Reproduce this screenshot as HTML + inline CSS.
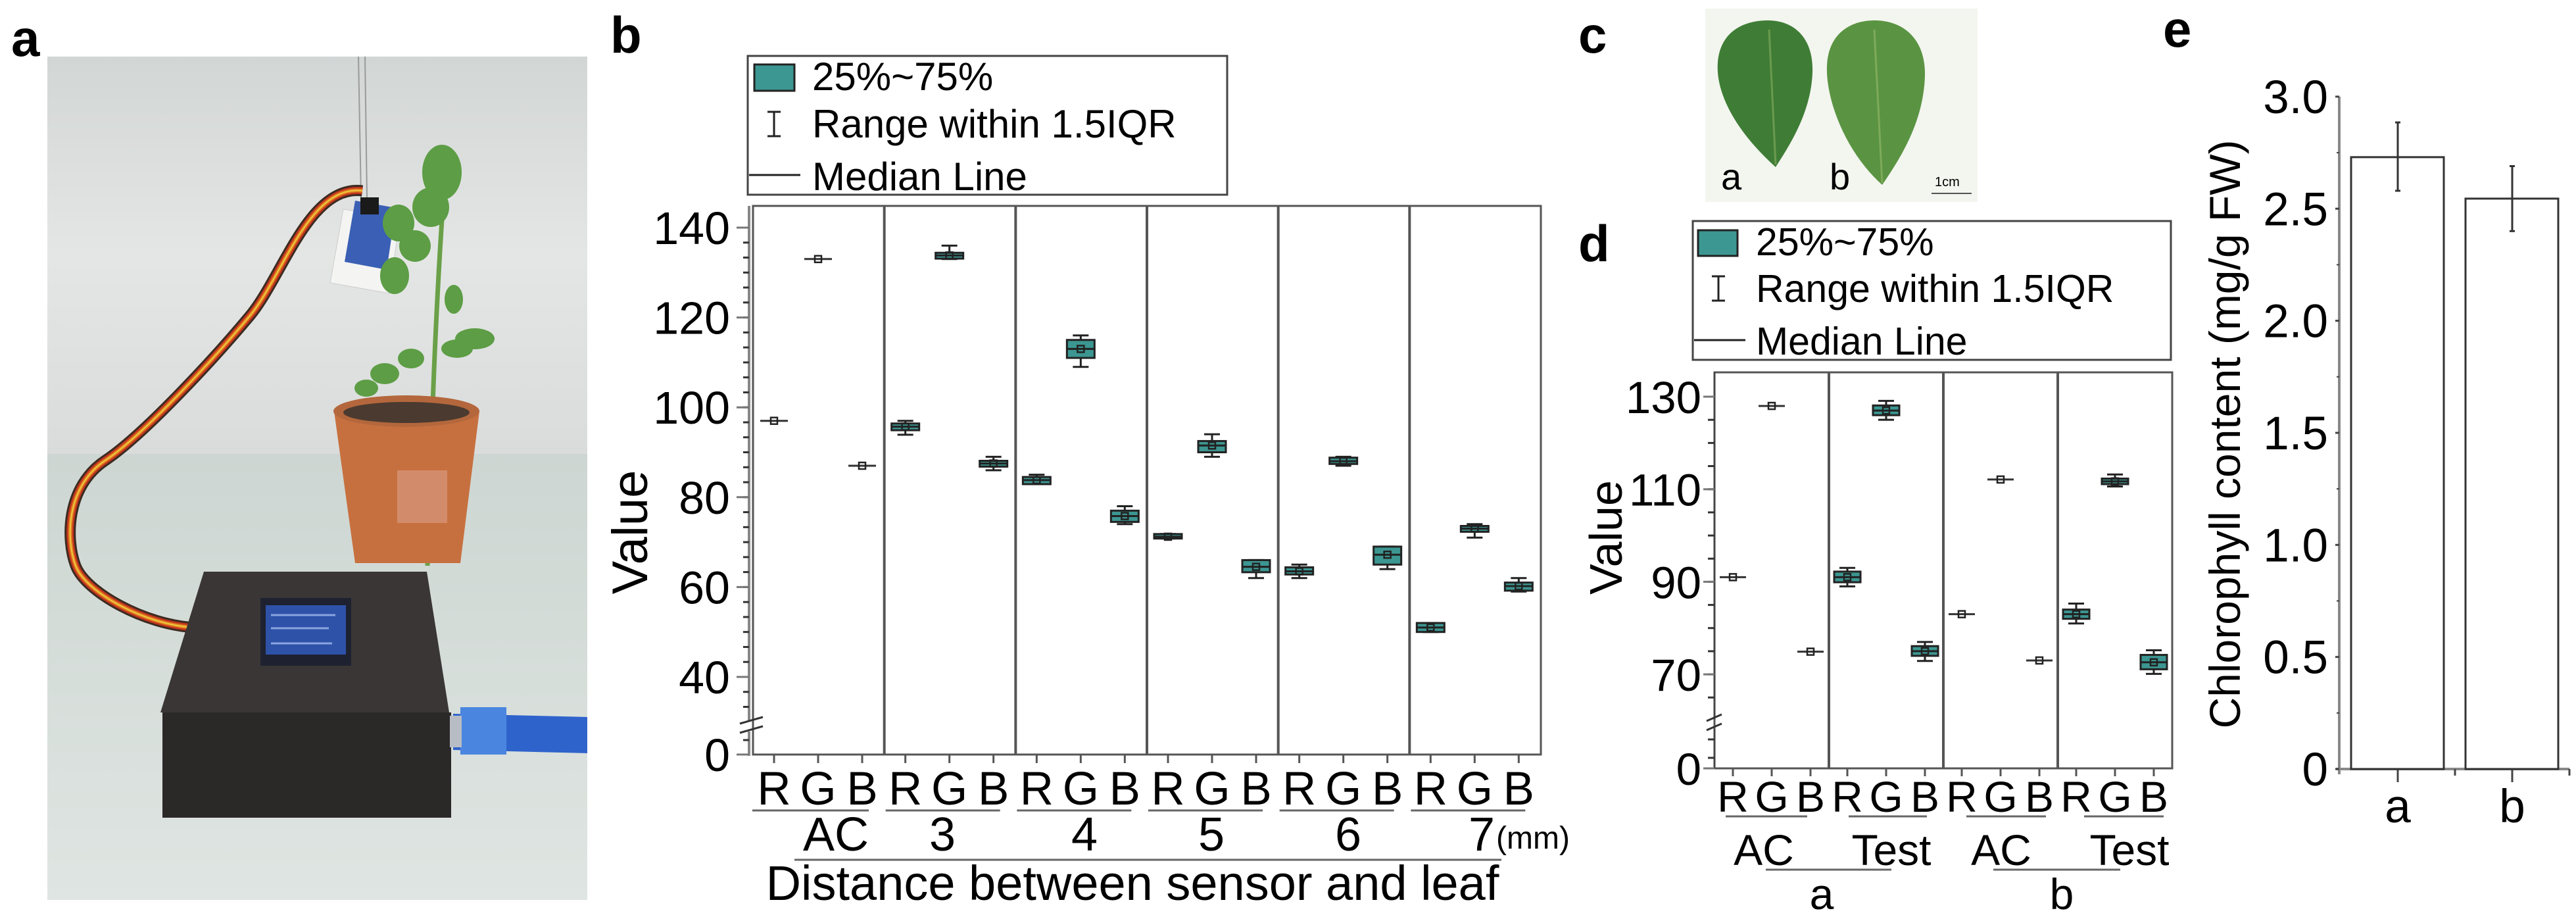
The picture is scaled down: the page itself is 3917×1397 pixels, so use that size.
<!DOCTYPE html>
<html><head><meta charset="utf-8"><style>
html,body{margin:0;padding:0;background:#fff;}
svg{display:block;font-family:"Liberation Sans",sans-serif;}
</style></head><body>
<svg id="fig" width="3917" height="1397" viewBox="0 0 3917 1397" xmlns="http://www.w3.org/2000/svg">
<defs>
<linearGradient id="wall" x1="0" y1="0" x2="0" y2="1"><stop offset="0" stop-color="#d2d6d5"/><stop offset="0.5" stop-color="#e4e6e5"/><stop offset="1" stop-color="#d9dcdb"/></linearGradient>
<linearGradient id="table" x1="0" y1="0" x2="0" y2="1"><stop offset="0" stop-color="#cdd6d2"/><stop offset="1" stop-color="#dfe5e2"/></linearGradient>
</defs>
<rect width="3917" height="1397" fill="#fff"/>

<!-- Panel a photo -->
<g>
<rect x="72" y="86" width="821" height="604" fill="url(#wall)"/>
<rect x="72" y="690" width="821" height="678" fill="url(#table)"/>
<line x1="545" y1="86" x2="549" y2="300" stroke="#9a9a9a" stroke-width="2"/>
<line x1="555" y1="86" x2="558" y2="300" stroke="#9a9a9a" stroke-width="2"/>
<path d="M551,290 C470,280 430,420 380,480 S220,660 160,700 S100,820 115,860 S220,950 296,954" fill="none" stroke="#3b2b20" stroke-width="17"/>
<path d="M551,290 C470,280 430,420 380,480 S220,660 160,700 S100,820 115,860 S220,950 296,954" fill="none" stroke="#c0341f" stroke-width="11"/>
<path d="M551,290 C470,280 430,420 380,480 S220,660 160,700 S100,820 115,860 S220,950 296,954" fill="none" stroke="#e27a22" stroke-width="6"/>
<path d="M551,290 C470,280 430,420 380,480 S220,660 160,700 S100,820 115,860 S220,950 296,954" fill="none" stroke="#eccb3c" stroke-width="2"/>
<polygon points="522,318 608,332 592,446 502,430" fill="#f4f4f2" stroke="#ccc"/>
<polygon points="540,305 602,316 588,410 524,398" fill="#3a5fb4"/>
<rect x="548" y="300" width="28" height="26" fill="#1a1a1a"/>
<path d="M650,860 C655,700 660,500 675,290" stroke="#6aa048" stroke-width="7" fill="none"/>
<g fill="#5d9d45">
<ellipse cx="672" cy="262" rx="30" ry="42"/><ellipse cx="655" cy="315" rx="28" ry="30"/>
<ellipse cx="606" cy="339" rx="24" ry="28"/><ellipse cx="600" cy="419" rx="22" ry="28"/>
<ellipse cx="631" cy="374" rx="24" ry="24"/><ellipse cx="690" cy="455" rx="14" ry="22"/>
<ellipse cx="722" cy="515" rx="30" ry="16"/><ellipse cx="695" cy="530" rx="24" ry="14"/>
<ellipse cx="585" cy="568" rx="22" ry="16"/><ellipse cx="557" cy="590" rx="18" ry="13"/>
<ellipse cx="625" cy="545" rx="20" ry="15"/>
</g>
<polygon points="508,625 729,625 700,856 540,856" fill="#c7703f"/>
<ellipse cx="618" cy="625" rx="111" ry="24" fill="#b4673c"/>
<ellipse cx="618" cy="627" rx="96" ry="16" fill="#4a3a30"/>
<rect x="604" y="715" width="76" height="80" fill="#d38c6b"/>
<polygon points="310,869 649,869 683,1083 244,1083" fill="#3a3636"/>
<rect x="247" y="1083" width="439" height="160" fill="#2b2828"/>
<rect x="396" y="909" width="138" height="103" fill="#1e2230"/>
<rect x="404" y="920" width="122" height="75" fill="#2e52a8"/>
<g stroke="#8aa4e0" stroke-width="3"><line x1="412" y1="935" x2="510" y2="935"/><line x1="412" y1="955" x2="500" y2="955"/><line x1="412" y1="978" x2="505" y2="978"/></g>
<polygon points="689,1085 893,1090 893,1145 689,1140" fill="#2f63cc"/>
<rect x="700" y="1075" width="70" height="72" fill="#4a86e0"/>
<rect x="684" y="1088" width="18" height="48" fill="#b8bcc4"/>
</g>

<!-- Panel c photo -->
<g>
<rect x="2593" y="13" width="414" height="294" fill="#f3f5ef"/>
<path d="M2700,254 C2645,205 2608,145 2612,95 C2616,45 2655,31 2688,31 C2730,31 2758,60 2756,110 C2754,170 2722,220 2700,254Z" fill="#3f7d36"/>
<path d="M2862,281 C2805,230 2776,150 2778,100 C2780,50 2815,31 2850,31 C2895,31 2928,60 2927,115 C2925,185 2890,240 2862,281Z" fill="#5a9442"/>
<line x1="2690" y1="45" x2="2700" y2="250" stroke="#6a9a50" stroke-width="3"/>
<line x1="2850" y1="45" x2="2862" y2="278" stroke="#7eaa5a" stroke-width="3"/>
<text x="2617" y="288" font-size="56">a</text>
<text x="2782" y="288" font-size="56">b</text>
<text x="2942" y="283" font-size="20">1cm</text>
<line x1="2937" y1="294" x2="2998" y2="294" stroke="#555" stroke-width="2"/>
</g>

<!-- Panel letters -->
<g font-weight="bold" font-size="78">
<text x="17" y="85">a</text>
<text x="928" y="80">b</text>
<text x="2400" y="80">c</text>
<text x="2400" y="397">d</text>
<text x="3289" y="71">e</text>
</g>

<!-- Legend b -->
<g>
<rect x="1137" y="85" width="729" height="211" fill="#fff" stroke="#444" stroke-width="3"/>
<rect x="1147" y="98" width="61" height="40" fill="#3c9691" stroke="#222" stroke-width="3"/>
<text x="1235" y="137" font-size="60">25%~75%</text>
<g stroke="#222" stroke-width="3"><line x1="1177" y1="170" x2="1177" y2="207"/><line x1="1167" y1="170" x2="1187" y2="170"/><line x1="1167" y1="207" x2="1187" y2="207"/></g>
<text x="1235" y="209" font-size="60">Range within 1.5IQR</text>
<line x1="1139" y1="266" x2="1217" y2="266" stroke="#222" stroke-width="3"/>
<text x="1235" y="289" font-size="60">Median Line</text>
</g>

<!-- Legend d -->
<g>
<rect x="2574" y="336" width="727" height="211" fill="#fff" stroke="#444" stroke-width="3"/>
<rect x="2582" y="350" width="60" height="39" fill="#3c9691" stroke="#222" stroke-width="3"/>
<text x="2670" y="388" font-size="59">25%~75%</text>
<g stroke="#222" stroke-width="3"><line x1="2613" y1="420" x2="2613" y2="457"/><line x1="2603" y1="420" x2="2623" y2="420"/><line x1="2603" y1="457" x2="2623" y2="457"/></g>
<text x="2670" y="459" font-size="59">Range within 1.5IQR</text>
<line x1="2576" y1="517" x2="2654" y2="517" stroke="#222" stroke-width="3"/>
<text x="2670" y="539" font-size="59">Median Line</text>
</g>

<g id="chartB"></g>
<g id="chartD"></g>
<g id="chartE"></g>
</svg>
<script>
// ---- Panel b data ----
const bGroups = ["AC","3","4","5","6","7"];
const bChannels = ["R","G","B"];
const bQ1  = [97,133,87, 94.9,133.1,86.8, 82.9,111,74.5, 70.8,90,63.3, 62.8,87.4,65, 50,72.3,59.2];
const bQ3  = [97,133,87, 96.4,134.4,88.1, 84.5,115,77, 71.8,92.5,66, 64.4,88.8,69, 52,73.6,61];
const bMed = [97,133,87, 95.7,133.8,87.5, 83.8,113,75.8, 71.2,91.5,64.5, 63.5,88,67.2, 51,73,60.2];
const bLo  = [97,133,87, 93.9,133,86, 83,109,74, 70.8,89,62, 62,87,64, 50,71,59];
const bHi  = [97,133,87, 97,136,89, 85,116,78, 71.8,94,66, 65,89,69, 52,74,62];
const bYTicks = [0,40,60,80,100,120,140];
// ---- Panel d data ----
const dGroups = ["AC","Test","AC","Test"];
const dSamples = ["a","b"];
const dQ1  = [91,128,74.9, 89.9,126,74, 83,112.1,73, 82,111.1,71.1];
const dQ3  = [91,128,74.9, 92.2,128.1,76.1, 83,112.1,73, 84,112.3,74.2];
const dMed = [91,128,74.9, 91,127,75, 83,112.1,73, 83,111.7,72.6];
const dLo  = [91,128,74.9, 89,125,72.9, 83,112.1,73, 81,110.6,70.1];
const dHi  = [91,128,74.9, 93,129.1,77, 83,112.1,73, 85.3,113.2,75.2];
const dYTicks = [0,70,90,110,130];
// ---- Panel e data ----
const eCats = ["a","b"];
const eVals = [2.73,2.545];
const eErrLo = [2.58,2.40];
const eErrHi = [2.885,2.69];
const eYTicks = ["0","0.5","1.0","1.5","2.0","2.5","3.0"];

const NS="http://www.w3.org/2000/svg";
function mk(parent,tag,attrs,txt){const e=document.createElementNS(NS,tag);for(const k in attrs)e.setAttribute(k,attrs[k]);if(txt!==undefined)e.textContent=txt;parent.appendChild(e);return e;}

function boxPlot(g,cx,w,q1,q3,med,lo,hi,y){
  const cap=12;
  const isFlat=(q3-q1)<0.05;
  if(isFlat){
    const l=mk(g,'line',{x1:cx-w/2,x2:cx+w/2,y1:y(med),y2:y(med),stroke:'#333','stroke-width':3});
    
    
  } else {
    mk(g,'line',{x1:cx,x2:cx,y1:y(hi),y2:y(lo),stroke:'#222','stroke-width':3});
    mk(g,'line',{x1:cx-cap,x2:cx+cap,y1:y(hi),y2:y(hi),stroke:'#222','stroke-width':3});
    mk(g,'line',{x1:cx-cap,x2:cx+cap,y1:y(lo),y2:y(lo),stroke:'#222','stroke-width':3});
    const r=mk(g,'rect',{x:cx-w/2,y:y(q3),width:w,height:Math.max(2,y(q1)-y(q3)),fill:'#3c9691',stroke:'#222','stroke-width':3});
    
    
    mk(g,'line',{x1:cx-w/2,x2:cx+w/2,y1:y(med),y2:y(med),stroke:'#222','stroke-width':3});
  }
  const m=mk(g,'rect',{x:cx-5,y:y(med)-5,width:10,height:10,fill:'none',stroke:'#222','stroke-width':2.5});
  
  
}

// ===== Panel b =====
(function(){
  const g=document.getElementById('chartB');
  const L=1145,R=2343,T=313,B=1147;
  const gw=(R-L)/bGroups.length;
  const offs=[32,99,166];
  const y=v=> v===0?B:346+(140-v)*6.83;
  mk(g,'rect',{x:L,y:T,width:R-L,height:B-T,fill:'none',stroke:'#555','stroke-width':3});
  mk(g,'line',{x1:1139,x2:1139,y1:T,y2:1095,stroke:'#888','stroke-width':4});
  mk(g,'line',{x1:1139,x2:1139,y1:1112,y2:B+2,stroke:'#888','stroke-width':4});
  mk(g,'line',{x1:1125,x2:1160,y1:1100,y2:1090,stroke:'#333','stroke-width':3});
  mk(g,'line',{x1:1125,x2:1160,y1:1114,y2:1104,stroke:'#333','stroke-width':3});
  for(let i=1;i<bGroups.length;i++){mk(g,'line',{x1:L+i*gw,x2:L+i*gw,y1:T,y2:B,stroke:'#555','stroke-width':4});}
  for(let v=140;v>=33;v-=20/6){mk(g,'line',{x1:1130,x2:1139,y1:y(v),y2:y(v),stroke:'#333','stroke-width':3});}
  mk(g,'line',{x1:1130,x2:1139,y1:B-22,y2:B-22,stroke:'#333','stroke-width':3});
  bYTicks.forEach(v=>{
    mk(g,'line',{x1:1120,x2:1139,y1:y(v),y2:y(v),stroke:'#777','stroke-width':3});
    const t=mk(g,'text',{x:1110,y:y(v)+25,'font-size':70,'text-anchor':'end'},String(v));
    
    
  });
  const yt=mk(g,'text',{x:0,y:0,'font-size':76,'text-anchor':'middle',transform:'translate(984,809) rotate(-90)'},'Value');
  
  
  bGroups.forEach((grp,gi)=>{
    const gx=L+gi*gw;
    bChannels.forEach((ch,ci)=>{
      const k=gi*3+ci, cx=gx+offs[ci];
      mk(g,'line',{x1:cx,x2:cx,y1:B,y2:B+13,stroke:'#555','stroke-width':3});
      const bx=mk(g,'g',{});
      
      
      boxPlot(bx,cx,42,bQ1[k],bQ3[k],bMed[k],bLo[k],bHi[k],y);
      const t=mk(g,'text',{x:cx,y:1223,'font-size':71,'text-anchor':'middle'},ch);
      
      
    });
    const x0=gi===0?gx-1:gx+2;
    mk(g,'line',{x1:x0,x2:gx+176,y1:1232,y2:1232,stroke:'#666','stroke-width':3});
    const gc=[1271,1433,1649,1842,2050,2253][gi];
    const t=mk(g,'text',{x:gc,y:1293,'font-size':72,'text-anchor':'middle'},grp);
    
    
  });
  const mm=mk(g,'text',{x:2275,y:1290,'font-size':48},'(mm)');
  
  
  mk(g,'line',{x1:1208,x2:2283,y1:1307,y2:1307,stroke:'#666','stroke-width':3});
  const xt=mk(g,'text',{x:1722,y:1368,'font-size':74,'text-anchor':'middle'},'Distance between sensor and leaf');
  
  
})();

// ===== Panel d =====
(function(){
  const g=document.getElementById('chartD');
  const L=2607,R=3303,T=566,B=1168;
  const gw=(R-L)/dGroups.length;
  const offs=[28,87,146];
  const y=v=> v===0?B:603+(130-v)*7.035;
  mk(g,'rect',{x:L,y:T,width:R-L,height:B-T,fill:'none',stroke:'#555','stroke-width':3});
  mk(g,'line',{x1:L,x2:L,y1:T,y2:1093,stroke:'#444','stroke-width':3});
  mk(g,'line',{x1:L,x2:L,y1:1108,y2:B,stroke:'#444','stroke-width':3});
  mk(g,'line',{x1:2595,x2:2618,y1:1096,y2:1086,stroke:'#333','stroke-width':3});
  mk(g,'line',{x1:2595,x2:2618,y1:1110,y2:1100,stroke:'#333','stroke-width':3});
  for(let i=1;i<dGroups.length;i++){mk(g,'line',{x1:L+i*gw,x2:L+i*gw,y1:T,y2:B,stroke:'#555','stroke-width':4});}
  for(let v=130;v>=65;v-=5){mk(g,'line',{x1:2597,x2:L,y1:y(v),y2:y(v),stroke:'#333','stroke-width':3});}
  [1124,1152].forEach(p=>mk(g,'line',{x1:2597,x2:L,y1:p,y2:p,stroke:'#333','stroke-width':3}));
  dYTicks.forEach(v=>{
    mk(g,'line',{x1:2590,x2:L,y1:y(v),y2:y(v),stroke:'#777','stroke-width':3});
    const t=mk(g,'text',{x:2587,y:y(v)+25,'font-size':69,'text-anchor':'end'},String(v));
    
    
  });
  const yt=mk(g,'text',{x:0,y:0,'font-size':70,'text-anchor':'middle',transform:'translate(2466,817) rotate(-90)'},'Value');
  
  
  const segs=[[2624,2748],[2811,2930],[2990,3111],[3169,3290]];
  const gcx=[2682,2876,3043,3238];
  dGroups.forEach((grp,gi)=>{
    const gx=L+gi*gw;
    bChannels.forEach((ch,ci)=>{
      const k=gi*3+ci, cx=gx+offs[ci];
      mk(g,'line',{x1:cx,x2:cx,y1:B,y2:B+12,stroke:'#555','stroke-width':3});
      const bx=mk(g,'g',{});
      
      
      boxPlot(bx,cx,40,dQ1[k],dQ3[k],dMed[k],dLo[k],dHi[k],y);
      const t=mk(g,'text',{x:cx,y:1234,'font-size':66,'text-anchor':'middle'},ch);
      
      
    });
    mk(g,'line',{x1:segs[gi][0],x2:segs[gi][1],y1:1241,y2:1241,stroke:'#666','stroke-width':3});
    const t=mk(g,'text',{x:gcx[gi],y:1315,'font-size':66,'text-anchor':'middle'},grp);
    
    
  });
  [[2685,2876,2770],[3031,3224,3135]].forEach((s,i)=>{
    mk(g,'line',{x1:s[0],x2:s[1],y1:1322,y2:1322,stroke:'#666','stroke-width':3});
    const t=mk(g,'text',{x:s[2],y:1382,'font-size':66,'text-anchor':'middle'},dSamples[i]);
    
    
  });
})();

// ===== Panel e =====
(function(){
  const g=document.getElementById('chartE');
  const X0=3557,Y0=1169,XE=3907;
  const y=v=>Y0-v*340.7;
  const cx=[3646,3820];
  mk(g,'line',{x1:X0,x2:X0,y1:y(3.0),y2:Y0+8,stroke:'#888','stroke-width':4});
  mk(g,'line',{x1:X0-5,x2:XE,y1:Y0,y2:Y0,stroke:'#888','stroke-width':4});
  eYTicks.forEach((lab,i)=>{
    const v=i*0.5;
    mk(g,'line',{x1:X0-6,x2:X0,y1:y(v),y2:y(v),stroke:'#444','stroke-width':3});
    if(i<eYTicks.length-1) mk(g,'line',{x1:X0-4,x2:X0,y1:y(v+0.25),y2:y(v+0.25),stroke:'#444','stroke-width':2});
    const t=mk(g,'text',{x:3540,y:y(v)+25,'font-size':71,'text-anchor':'end'},lab);
    
    
  });
  [3646,3733,3820,3907].forEach((p,i)=>mk(g,'line',{x1:p,x2:p,y1:Y0,y2:Y0+(i%2?10:20),stroke:'#444','stroke-width':3}));
  eCats.forEach((c,i)=>{
    const b=mk(g,'rect',{x:cx[i]-71,y:y(eVals[i]),width:141,height:Y0-y(eVals[i]),fill:'#fff',stroke:'#333','stroke-width':3});
    
    
    const e=mk(g,'g',{stroke:'#333','stroke-width':3});
    
    
    mk(e,'line',{x1:cx[i],x2:cx[i],y1:y(eErrHi[i]),y2:y(eErrLo[i])});
    mk(e,'line',{x1:cx[i]-4,x2:cx[i]+4,y1:y(eErrHi[i]),y2:y(eErrHi[i])});
    mk(e,'line',{x1:cx[i]-4,x2:cx[i]+4,y1:y(eErrLo[i]),y2:y(eErrLo[i])});
    const t=mk(g,'text',{x:cx[i],y:1250,'font-size':71,'text-anchor':'middle'},c);
    
    
  });
  const yt=mk(g,'text',{x:0,y:0,'font-size':66,'text-anchor':'middle',transform:'translate(3406,660) rotate(-90)'},'Chlorophyll content (mg/g FW)');
  
  
})();
</script>
</body></html>
